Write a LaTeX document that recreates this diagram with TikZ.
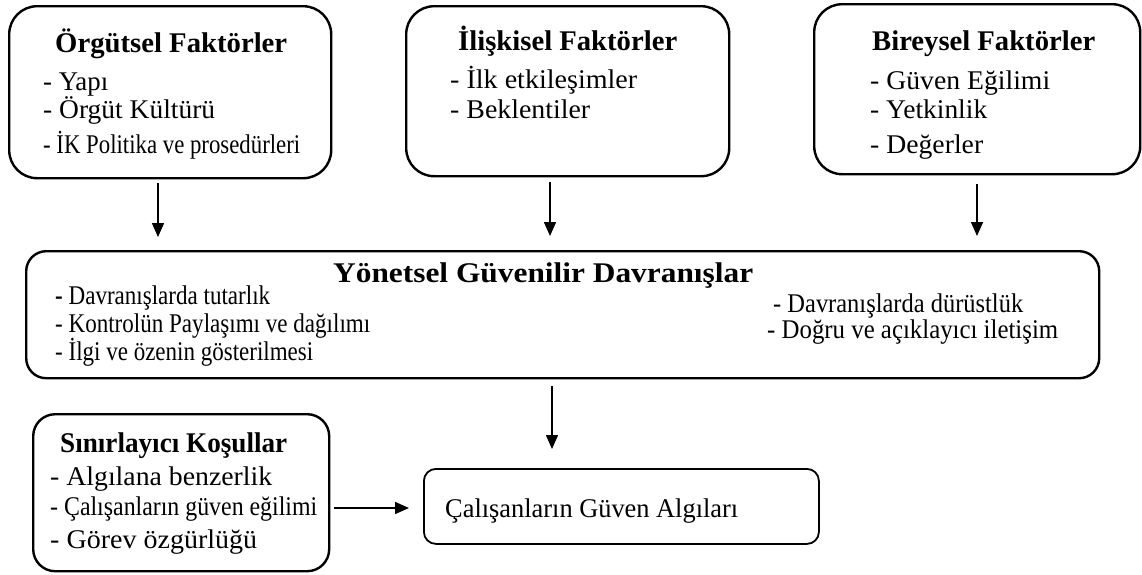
\documentclass[tikz,border=0pt]{standalone}
\usepackage{fontspec}
\setmainfont{Liberation Serif}
\usepackage{graphicx}
\usetikzlibrary{arrows.meta}
% set a line of text to a given width, keeping its height
\newcommand\fitto[2]{\resizebox{#1pt}{\height}{#2}}

\begin{document}
\begin{tikzpicture}[x=1pt,y=-1pt,
  panel/.style={draw, line width=2.4pt, rounded corners=#1, inner sep=0pt,
    anchor=north west, fill=white},
  txt/.style={anchor=base west, inner sep=0pt, font=\fontsize{27}{27}\selectfont},
  ttl/.style={anchor=base west, inner sep=0pt, font=\fontsize{28.5}{28.5}\selectfont\bfseries},
  arr/.style={line width=1.5pt, -{Triangle[length=14pt,width=12pt]}}
]
\useasboundingbox[fill=white] (0,0) rectangle (1142,574);

% factor boxes
\node[panel=28pt, minimum width=322pt, minimum height=172pt] (org) at (8,5) {};
\node[panel=28pt, minimum width=323pt, minimum height=170pt] (ili) at (405,5) {};
\node[panel=28pt, minimum width=326pt, minimum height=170pt] (bir) at (813,3) {};

\node[ttl] (orgT) at (55,52)  {\fitto{232}{Örgütsel Faktörler}};
\node[txt] (org1) at (43,90)  {\fitto{65}{- Yapı}};
\node[txt] (org2) at (43,118) {\fitto{172}{- Örgüt Kültürü}};
\node[txt] (org3) at (43,153) {\fitto{257}{- İK Politika ve prosedürleri}};

\node[ttl] (iliT) at (458,50) {\fitto{219}{İlişkisel Faktörler}};
\node[txt] (ili1) at (450,88) {\fitto{187}{- İlk etkileşimler}};
\node[txt] (ili2) at (450,118){\fitto{140}{- Beklentiler}};

\node[ttl] (birT) at (872,50) {\fitto{223}{Bireysel Faktörler}};
\node[txt] (bir1) at (870,89) {\fitto{180}{- Güven Eğilimi}};
\node[txt] (bir2) at (870,118){\fitto{117}{- Yetkinlik}};
\node[txt] (bir3) at (870,153){\fitto{113}{- Değerler}};

% managerial behaviours
\node[panel=20pt, minimum width=1073pt, minimum height=127pt] (mid) at (25,250) {};
\node[ttl] (midT) at (333,282) {\fitto{420}{Yönetsel Güvenilir Davranışlar}};
\node[txt] (mid1) at (55,304)  {\fitto{215}{\textbf{-} Davranışlarda tutarlık}};
\node[txt] (mid2) at (55,332)  {\fitto{315}{- Kontrolün Paylaşımı ve dağılımı}};
\node[txt] (mid3) at (55,360)  {\fitto{258}{- İlgi ve özenin gösterilmesi}};
\node[txt] (mid4) at (773,312) {\fitto{250}{- Davranışlarda dürüstlük}};
\node[txt] (mid5) at (767,338) {\fitto{291}{- Doğru ve açıklayıcı iletişim}};

% limiting conditions
\node[panel=22pt, minimum width=296pt, minimum height=157pt] (sin) at (32,413) {};
\node[ttl] (sinT) at (60,452) {\fitto{227}{Sınırlayıcı Koşullar}};
\node[txt] (sin1) at (50,485) {\fitto{222}{- Algılana benzerlik}};
\node[txt] (sin2) at (50,515) {\fitto{267}{- Çalışanların güven eğilimi}};
\node[txt] (sin3) at (50,548) {\fitto{207}{- Görev özgürlüğü}};

% outcome
\node[panel=12pt, line width=1.8pt, minimum width=395pt, minimum height=75pt] (res) at (423,468) {};
\node[txt] (resT) at (445,517) {\fitto{293}{Çalışanların Güven Algıları}};

% connectors
\coordinate (c1) at (158,0);
\coordinate (c2) at (550,0);
\coordinate (c3) at (977,0);
\coordinate (c4) at (552,0);
\coordinate (h1) at (0,508);
\draw[arr, shorten <=4pt, shorten >=13pt] (c1 |- org.south) -- (c1 |- mid.north);
\draw[arr, shorten <=5pt, shorten >=14pt] (c2 |- ili.south) -- (c2 |- mid.north);
\draw[arr, shorten <=9pt, shorten >=14pt] (c3 |- bir.south) -- (c3 |- mid.north);
\draw[arr, shorten <=7pt, shorten >=19pt] (c4 |- mid.south) -- (c4 |- res.north);
\draw[arr, shorten <=4pt, shorten >=14pt] (sin.east |- h1) -- (res.west |- h1);
\end{tikzpicture}
\end{document}
